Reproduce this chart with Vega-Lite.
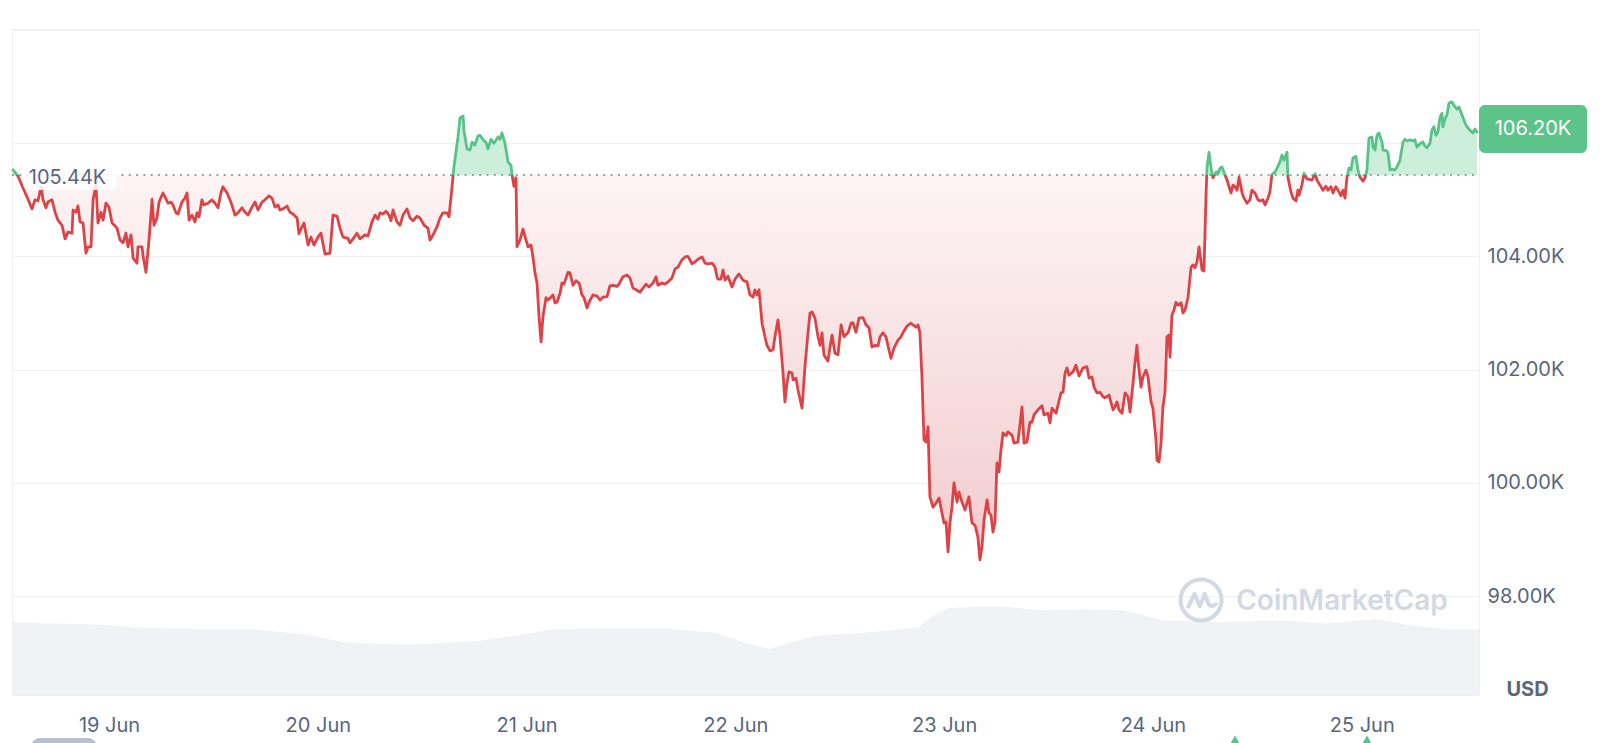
{
"$schema":"https://vega.github.io/schema/vega-lite/v6.json",
"width":1467,"height":666,
"autosize":{"type":"none"},
"padding":{"left":12,"top":29,"right":121,"bottom":48},
"background":"#ffffff",
"config":{"font":"Inter","view":{"stroke":"#eef0f3","strokeWidth":1},"axis":{"labelFont":"Inter","titleFont":"Inter"}},
"datasets":{
"volume":[
{"t":"2025-06-18T12:51:00Z","v":32.9},{"t":"2025-06-18T17:20:00Z","v":32.2},{"t":"2025-06-18T23:12:00Z","v":31.8},{"t":"2025-06-19T02:46:00Z","v":30.4},{"t":"2025-06-19T10:55:00Z","v":29.5},{"t":"2025-06-19T16:47:00Z","v":29.5},{"t":"2025-06-19T22:39:00Z","v":27.2},{"t":"2025-06-20T03:21:00Z","v":23.5},{"t":"2025-06-20T10:22:00Z","v":22.6},{"t":"2025-06-20T15:05:00Z","v":23.5},{"t":"2025-06-20T18:39:00Z","v":24.4},{"t":"2025-06-20T22:06:00Z","v":26.3},{"t":"2025-06-21T02:48:00Z","v":29.5},{"t":"2025-06-21T09:49:00Z","v":29.9},{"t":"2025-06-21T15:41:00Z","v":29.9},{"t":"2025-06-21T21:33:00Z","v":28.1},{"t":"2025-06-22T01:06:00Z","v":23.5},{"t":"2025-06-22T03:59:00Z","v":20.7},{"t":"2025-06-22T06:58:00Z","v":24.4},{"t":"2025-06-22T09:16:00Z","v":26.7},{"t":"2025-06-22T15:08:00Z","v":28.1},{"t":"2025-06-22T21:00:00Z","v":30.4},{"t":"2025-06-22T22:50:00Z","v":35.9},{"t":"2025-06-23T00:33:00Z","v":39.1},{"t":"2025-06-23T04:07:00Z","v":40.0},{"t":"2025-06-23T07:34:00Z","v":39.6},{"t":"2025-06-23T11:08:00Z","v":38.2},{"t":"2025-06-23T15:51:00Z","v":38.6},{"t":"2025-06-23T20:27:00Z","v":38.2},{"t":"2025-06-23T22:51:00Z","v":35.9},{"t":"2025-06-24T01:09:00Z","v":33.6},{"t":"2025-06-24T08:10:00Z","v":32.9},{"t":"2025-06-24T15:18:00Z","v":33.6},{"t":"2025-06-24T20:01:00Z","v":32.2},{"t":"2025-06-25T01:52:00Z","v":34.2},{"t":"2025-06-25T05:19:00Z","v":31.5},{"t":"2025-06-25T10:02:00Z","v":29.5},{"t":"2025-06-25T13:29:00Z","v":29.5}],
"price":[
{"t":"2025-06-18T12:58:00Z","p":105530},{"t":"2025-06-18T13:32:00Z","p":105420},{"t":"2025-06-18T14:14:00Z","p":105170},{"t":"2025-06-18T14:41:00Z","p":105010},{"t":"2025-06-18T15:09:00Z","p":104840},{"t":"2025-06-18T15:30:00Z","p":105000},{"t":"2025-06-18T15:50:00Z","p":104980},{"t":"2025-06-18T16:11:00Z","p":105230},{"t":"2025-06-18T16:25:00Z","p":105000},{"t":"2025-06-18T16:45:00Z","p":104860},{"t":"2025-06-18T16:59:00Z","p":104960},{"t":"2025-06-18T17:27:00Z","p":105000},{"t":"2025-06-18T17:48:00Z","p":104780},{"t":"2025-06-18T18:08:00Z","p":104640},{"t":"2025-06-18T18:36:00Z","p":104550},{"t":"2025-06-18T18:57:00Z","p":104310},{"t":"2025-06-18T19:17:00Z","p":104430},{"t":"2025-06-18T19:45:00Z","p":104410},{"t":"2025-06-18T19:52:00Z","p":104820},{"t":"2025-06-18T20:12:00Z","p":104780},{"t":"2025-06-18T20:26:00Z","p":104890},{"t":"2025-06-18T20:40:00Z","p":104610},{"t":"2025-06-18T21:01:00Z","p":104590},{"t":"2025-06-18T21:21:00Z","p":104060},{"t":"2025-06-18T21:35:00Z","p":104170},{"t":"2025-06-18T21:56:00Z","p":104170},{"t":"2025-06-18T22:10:00Z","p":105000},{"t":"2025-06-18T22:30:00Z","p":105260},{"t":"2025-06-18T22:44:00Z","p":104590},{"t":"2025-06-18T23:05:00Z","p":104780},{"t":"2025-06-18T23:19:00Z","p":104640},{"t":"2025-06-18T23:39:00Z","p":104940},
{"t":"2025-06-19T00:00:00Z","p":104870},{"t":"2025-06-19T00:21:00Z","p":104590},{"t":"2025-06-19T00:34:00Z","p":104560},{"t":"2025-06-19T00:55:00Z","p":104500},{"t":"2025-06-19T01:16:00Z","p":104290},{"t":"2025-06-19T01:37:00Z","p":104240},{"t":"2025-06-19T01:57:00Z","p":104410},{"t":"2025-06-19T02:11:00Z","p":104170},{"t":"2025-06-19T02:32:00Z","p":104380},{"t":"2025-06-19T02:46:00Z","p":103970},{"t":"2025-06-19T03:13:00Z","p":103880},{"t":"2025-06-19T03:20:00Z","p":104170},{"t":"2025-06-19T03:48:00Z","p":104170},{"t":"2025-06-19T03:54:00Z","p":104020},{"t":"2025-06-19T04:15:00Z","p":103720},{"t":"2025-06-19T04:36:00Z","p":104290},{"t":"2025-06-19T04:57:00Z","p":105010},{"t":"2025-06-19T05:10:00Z","p":104550},{"t":"2025-06-19T05:31:00Z","p":104680},{"t":"2025-06-19T05:45:00Z","p":104960},{"t":"2025-06-19T06:12:00Z","p":105120},{"t":"2025-06-19T06:26:00Z","p":105050},{"t":"2025-06-19T06:47:00Z","p":104940},{"t":"2025-06-19T07:08:00Z","p":104960},{"t":"2025-06-19T07:21:00Z","p":104910},{"t":"2025-06-19T07:42:00Z","p":104770},{"t":"2025-06-19T07:56:00Z","p":104750},{"t":"2025-06-19T08:23:00Z","p":104960},{"t":"2025-06-19T08:44:00Z","p":105030},{"t":"2025-06-19T08:58:00Z","p":105120},{"t":"2025-06-19T09:12:00Z","p":104640},{"t":"2025-06-19T09:32:00Z","p":104730},{"t":"2025-06-19T09:53:00Z","p":104610},{"t":"2025-06-19T10:07:00Z","p":104770},{"t":"2025-06-19T10:21:00Z","p":104700},{"t":"2025-06-19T10:41:00Z","p":105000},{"t":"2025-06-19T10:55:00Z","p":104910},{"t":"2025-06-19T11:23:00Z","p":104940},{"t":"2025-06-19T11:50:00Z","p":105000},{"t":"2025-06-19T12:11:00Z","p":104940},{"t":"2025-06-19T12:32:00Z","p":104860},{"t":"2025-06-19T12:52:00Z","p":105120},{"t":"2025-06-19T13:06:00Z","p":105230},{"t":"2025-06-19T13:34:00Z","p":105120},{"t":"2025-06-19T14:01:00Z","p":104960},{"t":"2025-06-19T14:29:00Z","p":104730},{"t":"2025-06-19T14:50:00Z","p":104770},{"t":"2025-06-19T15:17:00Z","p":104860},{"t":"2025-06-19T15:38:00Z","p":104780},{"t":"2025-06-19T15:59:00Z","p":104730},{"t":"2025-06-19T16:26:00Z","p":104870},{"t":"2025-06-19T16:47:00Z","p":104960},{"t":"2025-06-19T17:08:00Z","p":104820},{"t":"2025-06-19T17:35:00Z","p":104960},{"t":"2025-06-19T17:56:00Z","p":105000},{"t":"2025-06-19T18:24:00Z","p":105070},{"t":"2025-06-19T18:44:00Z","p":105030},{"t":"2025-06-19T19:05:00Z","p":104870},{"t":"2025-06-19T19:26:00Z","p":104910},{"t":"2025-06-19T19:39:00Z","p":104820},{"t":"2025-06-19T20:00:00Z","p":104840},{"t":"2025-06-19T20:28:00Z","p":104890},{"t":"2025-06-19T20:48:00Z","p":104780},{"t":"2025-06-19T21:09:00Z","p":104750},{"t":"2025-06-19T21:37:00Z","p":104680},{"t":"2025-06-19T21:50:00Z","p":104400},{"t":"2025-06-19T22:11:00Z","p":104520},{"t":"2025-06-19T22:25:00Z","p":104590},{"t":"2025-06-19T22:53:00Z","p":104200},{"t":"2025-06-19T23:13:00Z","p":104340},{"t":"2025-06-19T23:34:00Z","p":104200},
{"t":"2025-06-20T00:01:00Z","p":104340},{"t":"2025-06-20T00:22:00Z","p":104410},{"t":"2025-06-20T00:50:00Z","p":104040},{"t":"2025-06-20T01:24:00Z","p":104060},{"t":"2025-06-20T01:45:00Z","p":104730},{"t":"2025-06-20T02:13:00Z","p":104710},{"t":"2025-06-20T02:33:00Z","p":104500},{"t":"2025-06-20T02:54:00Z","p":104340},{"t":"2025-06-20T03:28:00Z","p":104320},{"t":"2025-06-20T03:42:00Z","p":104240},{"t":"2025-06-20T04:03:00Z","p":104310},{"t":"2025-06-20T04:30:00Z","p":104410},{"t":"2025-06-20T04:51:00Z","p":104310},{"t":"2025-06-20T05:26:00Z","p":104380},{"t":"2025-06-20T05:46:00Z","p":104360},{"t":"2025-06-20T06:14:00Z","p":104610},{"t":"2025-06-20T06:35:00Z","p":104730},{"t":"2025-06-20T06:55:00Z","p":104660},{"t":"2025-06-20T07:09:00Z","p":104770},{"t":"2025-06-20T07:30:00Z","p":104750},{"t":"2025-06-20T07:50:00Z","p":104800},{"t":"2025-06-20T08:11:00Z","p":104730},{"t":"2025-06-20T08:25:00Z","p":104630},{"t":"2025-06-20T08:39:00Z","p":104820},{"t":"2025-06-20T09:06:00Z","p":104610},{"t":"2025-06-20T09:27:00Z","p":104550},{"t":"2025-06-20T09:48:00Z","p":104730},{"t":"2025-06-20T10:15:00Z","p":104840},{"t":"2025-06-20T10:36:00Z","p":104680},{"t":"2025-06-20T10:57:00Z","p":104630},{"t":"2025-06-20T11:24:00Z","p":104710},{"t":"2025-06-20T11:45:00Z","p":104680},{"t":"2025-06-20T12:13:00Z","p":104550},{"t":"2025-06-20T12:40:00Z","p":104500},{"t":"2025-06-20T12:54:00Z","p":104290},{"t":"2025-06-20T13:15:00Z","p":104380},{"t":"2025-06-20T13:42:00Z","p":104520},{"t":"2025-06-20T14:03:00Z","p":104680},{"t":"2025-06-20T14:24:00Z","p":104770},{"t":"2025-06-20T14:51:00Z","p":104770},{"t":"2025-06-20T15:05:00Z","p":104700},{"t":"2025-06-20T15:26:00Z","p":105230},{"t":"2025-06-20T15:39:00Z","p":105580},{"t":"2025-06-20T16:07:00Z","p":106110},{"t":"2025-06-20T16:21:00Z","p":106450},{"t":"2025-06-20T16:42:00Z","p":106480},{"t":"2025-06-20T16:48:00Z","p":106230},{"t":"2025-06-20T17:09:00Z","p":105900},{"t":"2025-06-20T17:30:00Z","p":105880},{"t":"2025-06-20T17:44:00Z","p":106020},{"t":"2025-06-20T18:04:00Z","p":105970},{"t":"2025-06-20T18:25:00Z","p":106130},{"t":"2025-06-20T18:39:00Z","p":106140},{"t":"2025-06-20T19:00:00Z","p":106060},{"t":"2025-06-20T19:20:00Z","p":106020},{"t":"2025-06-20T19:34:00Z","p":105900},{"t":"2025-06-20T19:55:00Z","p":106070},{"t":"2025-06-20T20:15:00Z","p":106000},{"t":"2025-06-20T20:43:00Z","p":106110},{"t":"2025-06-20T20:57:00Z","p":106070},{"t":"2025-06-20T21:10:00Z","p":106180},{"t":"2025-06-20T21:31:00Z","p":106000},{"t":"2025-06-20T21:52:00Z","p":105670},{"t":"2025-06-20T22:13:00Z","p":105610},{"t":"2025-06-20T22:19:00Z","p":105450},{"t":"2025-06-20T22:33:00Z","p":105240},{"t":"2025-06-20T22:47:00Z","p":105390},{"t":"2025-06-20T22:54:00Z","p":104170},{"t":"2025-06-20T23:15:00Z","p":104290},{"t":"2025-06-20T23:35:00Z","p":104480},{"t":"2025-06-20T23:56:00Z","p":104290},
{"t":"2025-06-21T00:10:00Z","p":104170},{"t":"2025-06-21T00:31:00Z","p":104200},{"t":"2025-06-21T00:44:00Z","p":103990},{"t":"2025-06-21T00:58:00Z","p":103710},{"t":"2025-06-21T01:12:00Z","p":103530},{"t":"2025-06-21T01:26:00Z","p":102930},{"t":"2025-06-21T01:40:00Z","p":102490},{"t":"2025-06-21T01:53:00Z","p":102930},{"t":"2025-06-21T02:14:00Z","p":103270},{"t":"2025-06-21T02:28:00Z","p":103230},{"t":"2025-06-21T02:48:00Z","p":103280},{"t":"2025-06-21T03:02:00Z","p":103320},{"t":"2025-06-21T03:16:00Z","p":103180},{"t":"2025-06-21T03:30:00Z","p":103190},{"t":"2025-06-21T03:51:00Z","p":103350},{"t":"2025-06-21T04:04:00Z","p":103530},{"t":"2025-06-21T04:18:00Z","p":103510},{"t":"2025-06-21T04:46:00Z","p":103720},{"t":"2025-06-21T04:59:00Z","p":103710},{"t":"2025-06-21T05:20:00Z","p":103490},{"t":"2025-06-21T05:41:00Z","p":103570},{"t":"2025-06-21T06:02:00Z","p":103530},{"t":"2025-06-21T06:22:00Z","p":103320},{"t":"2025-06-21T06:36:00Z","p":103270},{"t":"2025-06-21T06:57:00Z","p":103090},{"t":"2025-06-21T07:11:00Z","p":103190},{"t":"2025-06-21T07:38:00Z","p":103320},{"t":"2025-06-21T08:06:00Z","p":103300},{"t":"2025-06-21T08:26:00Z","p":103230},{"t":"2025-06-21T08:47:00Z","p":103280},{"t":"2025-06-21T09:15:00Z","p":103290},{"t":"2025-06-21T09:35:00Z","p":103480},{"t":"2025-06-21T09:56:00Z","p":103490},{"t":"2025-06-21T10:24:00Z","p":103470},{"t":"2025-06-21T10:37:00Z","p":103510},{"t":"2025-06-21T11:05:00Z","p":103640},{"t":"2025-06-21T11:33:00Z","p":103670},{"t":"2025-06-21T11:53:00Z","p":103620},{"t":"2025-06-21T12:14:00Z","p":103440},{"t":"2025-06-21T12:35:00Z","p":103410},{"t":"2025-06-21T13:02:00Z","p":103370},{"t":"2025-06-21T13:23:00Z","p":103440},{"t":"2025-06-21T13:44:00Z","p":103510},{"t":"2025-06-21T14:04:00Z","p":103460},{"t":"2025-06-21T14:32:00Z","p":103530},{"t":"2025-06-21T14:53:00Z","p":103640},{"t":"2025-06-21T15:06:00Z","p":103490},{"t":"2025-06-21T15:34:00Z","p":103530},{"t":"2025-06-21T15:54:00Z","p":103510},{"t":"2025-06-21T16:15:00Z","p":103550},{"t":"2025-06-21T16:43:00Z","p":103620},{"t":"2025-06-21T17:04:00Z","p":103780},{"t":"2025-06-21T17:24:00Z","p":103810},{"t":"2025-06-21T17:52:00Z","p":103940},{"t":"2025-06-21T18:13:00Z","p":103990},{"t":"2025-06-21T18:33:00Z","p":104000},{"t":"2025-06-21T19:01:00Z","p":103870},{"t":"2025-06-21T19:22:00Z","p":103900},{"t":"2025-06-21T19:42:00Z","p":103950},{"t":"2025-06-21T20:10:00Z","p":103990},{"t":"2025-06-21T20:31:00Z","p":103880},{"t":"2025-06-21T20:51:00Z","p":103870},{"t":"2025-06-21T21:19:00Z","p":103880},{"t":"2025-06-21T21:40:00Z","p":103810},{"t":"2025-06-21T21:53:00Z","p":103640},{"t":"2025-06-21T22:00:00Z","p":103600},{"t":"2025-06-21T22:21:00Z","p":103600},{"t":"2025-06-21T22:35:00Z","p":103760},{"t":"2025-06-21T22:49:00Z","p":103580},{"t":"2025-06-21T23:09:00Z","p":103650},{"t":"2025-06-21T23:23:00Z","p":103550},{"t":"2025-06-21T23:37:00Z","p":103460},{"t":"2025-06-21T23:58:00Z","p":103600},
{"t":"2025-06-22T00:25:00Z","p":103690},{"t":"2025-06-22T00:53:00Z","p":103580},{"t":"2025-06-22T01:20:00Z","p":103550},{"t":"2025-06-22T01:41:00Z","p":103320},{"t":"2025-06-22T02:02:00Z","p":103280},{"t":"2025-06-22T02:15:00Z","p":103410},{"t":"2025-06-22T02:29:00Z","p":103320},{"t":"2025-06-22T02:43:00Z","p":103410},{"t":"2025-06-22T03:04:00Z","p":102820},{"t":"2025-06-22T03:24:00Z","p":102580},{"t":"2025-06-22T03:38:00Z","p":102430},{"t":"2025-06-22T03:59:00Z","p":102330},{"t":"2025-06-22T04:20:00Z","p":102350},{"t":"2025-06-22T04:33:00Z","p":102580},{"t":"2025-06-22T04:54:00Z","p":102880},{"t":"2025-06-22T05:08:00Z","p":102580},{"t":"2025-06-22T05:29:00Z","p":101940},{"t":"2025-06-22T05:42:00Z","p":101430},{"t":"2025-06-22T05:56:00Z","p":101760},{"t":"2025-06-22T06:10:00Z","p":101960},{"t":"2025-06-22T06:31:00Z","p":101940},{"t":"2025-06-22T06:38:00Z","p":101820},{"t":"2025-06-22T06:58:00Z","p":101850},{"t":"2025-06-22T07:12:00Z","p":101640},{"t":"2025-06-22T07:40:00Z","p":101320},{"t":"2025-06-22T08:00:00Z","p":102050},{"t":"2025-06-22T08:21:00Z","p":102650},{"t":"2025-06-22T08:35:00Z","p":103000},{"t":"2025-06-22T08:49:00Z","p":103020},{"t":"2025-06-22T09:09:00Z","p":102910},{"t":"2025-06-22T09:30:00Z","p":102580},{"t":"2025-06-22T09:44:00Z","p":102430},{"t":"2025-06-22T09:58:00Z","p":102650},{"t":"2025-06-22T10:11:00Z","p":102260},{"t":"2025-06-22T10:39:00Z","p":102150},{"t":"2025-06-22T10:53:00Z","p":102400},{"t":"2025-06-22T11:07:00Z","p":102610},{"t":"2025-06-22T11:27:00Z","p":102290},{"t":"2025-06-22T11:48:00Z","p":102260},{"t":"2025-06-22T12:09:00Z","p":102790},{"t":"2025-06-22T12:29:00Z","p":102580},{"t":"2025-06-22T12:57:00Z","p":102650},{"t":"2025-06-22T13:18:00Z","p":102820},{"t":"2025-06-22T13:31:00Z","p":102830},{"t":"2025-06-22T13:52:00Z","p":102660},{"t":"2025-06-22T14:13:00Z","p":102910},{"t":"2025-06-22T14:40:00Z","p":102920},{"t":"2025-06-22T15:01:00Z","p":102790},{"t":"2025-06-22T15:22:00Z","p":102740},{"t":"2025-06-22T15:42:00Z","p":102400},{"t":"2025-06-22T16:03:00Z","p":102430},{"t":"2025-06-22T16:24:00Z","p":102420},{"t":"2025-06-22T16:38:00Z","p":102580},{"t":"2025-06-22T16:58:00Z","p":102650},{"t":"2025-06-22T17:19:00Z","p":102580},{"t":"2025-06-22T17:33:00Z","p":102420},{"t":"2025-06-22T17:53:00Z","p":102200},{"t":"2025-06-22T18:14:00Z","p":102380},{"t":"2025-06-22T18:42:00Z","p":102520},{"t":"2025-06-22T19:02:00Z","p":102580},{"t":"2025-06-22T19:16:00Z","p":102650},{"t":"2025-06-22T19:44:00Z","p":102770},{"t":"2025-06-22T20:11:00Z","p":102820},{"t":"2025-06-22T20:25:00Z","p":102790},{"t":"2025-06-22T20:46:00Z","p":102750},{"t":"2025-06-22T21:00:00Z","p":102790},{"t":"2025-06-22T21:13:00Z","p":102650},{"t":"2025-06-22T21:27:00Z","p":101870},{"t":"2025-06-22T21:41:00Z","p":100760},{"t":"2025-06-22T21:55:00Z","p":100720},{"t":"2025-06-22T22:09:00Z","p":100990},{"t":"2025-06-22T22:22:00Z","p":99750},{"t":"2025-06-22T22:43:00Z","p":99570},{"t":"2025-06-22T23:04:00Z","p":99640},{"t":"2025-06-22T23:25:00Z","p":99730},{"t":"2025-06-22T23:45:00Z","p":99470},{"t":"2025-06-22T23:59:00Z","p":99290},
{"t":"2025-06-23T00:13:00Z","p":99310},{"t":"2025-06-23T00:27:00Z","p":98780},{"t":"2025-06-23T00:40:00Z","p":99290},{"t":"2025-06-23T00:54:00Z","p":99570},{"t":"2025-06-23T01:08:00Z","p":100000},{"t":"2025-06-23T01:29:00Z","p":99660},{"t":"2025-06-23T01:42:00Z","p":99840},{"t":"2025-06-23T02:03:00Z","p":99660},{"t":"2025-06-23T02:24:00Z","p":99520},{"t":"2025-06-23T02:51:00Z","p":99750},{"t":"2025-06-23T03:12:00Z","p":99290},{"t":"2025-06-23T03:33:00Z","p":99250},{"t":"2025-06-23T03:53:00Z","p":99040},{"t":"2025-06-23T04:07:00Z","p":98640},{"t":"2025-06-23T04:21:00Z","p":98870},{"t":"2025-06-23T04:35:00Z","p":99340},{"t":"2025-06-23T04:56:00Z","p":99700},{"t":"2025-06-23T05:09:00Z","p":99470},{"t":"2025-06-23T05:23:00Z","p":99430},{"t":"2025-06-23T05:37:00Z","p":99130},{"t":"2025-06-23T05:51:00Z","p":99310},{"t":"2025-06-23T06:04:00Z","p":100350},{"t":"2025-06-23T06:18:00Z","p":100190},{"t":"2025-06-23T06:32:00Z","p":100580},{"t":"2025-06-23T06:46:00Z","p":100880},{"t":"2025-06-23T07:07:00Z","p":100830},{"t":"2025-06-23T07:20:00Z","p":100900},{"t":"2025-06-23T07:48:00Z","p":100840},{"t":"2025-06-23T08:02:00Z","p":100700},{"t":"2025-06-23T08:29:00Z","p":100720},{"t":"2025-06-23T08:57:00Z","p":101340},{"t":"2025-06-23T09:11:00Z","p":100700},{"t":"2025-06-23T09:31:00Z","p":100720},{"t":"2025-06-23T09:52:00Z","p":101070},{"t":"2025-06-23T10:06:00Z","p":101070},{"t":"2025-06-23T10:20:00Z","p":101200},{"t":"2025-06-23T10:47:00Z","p":101290},{"t":"2025-06-23T11:15:00Z","p":101360},{"t":"2025-06-23T11:29:00Z","p":101200},{"t":"2025-06-23T11:56:00Z","p":101230},{"t":"2025-06-23T12:10:00Z","p":101060},{"t":"2025-06-23T12:24:00Z","p":101320},{"t":"2025-06-23T12:52:00Z","p":101230},{"t":"2025-06-23T13:05:00Z","p":101370},{"t":"2025-06-23T13:26:00Z","p":101590},{"t":"2025-06-23T13:40:00Z","p":101600},{"t":"2025-06-23T13:54:00Z","p":101940},{"t":"2025-06-23T14:07:00Z","p":102030},{"t":"2025-06-23T14:21:00Z","p":101900},{"t":"2025-06-23T14:49:00Z","p":101960},{"t":"2025-06-23T15:09:00Z","p":102080},{"t":"2025-06-23T15:30:00Z","p":101890},{"t":"2025-06-23T15:58:00Z","p":102030},{"t":"2025-06-23T16:25:00Z","p":102050},{"t":"2025-06-23T16:39:00Z","p":101850},{"t":"2025-06-23T17:00:00Z","p":101870},{"t":"2025-06-23T17:14:00Z","p":101690},{"t":"2025-06-23T17:34:00Z","p":101590},{"t":"2025-06-23T17:55:00Z","p":101600},{"t":"2025-06-23T18:16:00Z","p":101520},{"t":"2025-06-23T18:29:00Z","p":101500},{"t":"2025-06-23T18:57:00Z","p":101550},{"t":"2025-06-23T19:25:00Z","p":101290},{"t":"2025-06-23T19:38:00Z","p":101340},{"t":"2025-06-23T19:52:00Z","p":101430},{"t":"2025-06-23T20:06:00Z","p":101290},{"t":"2025-06-23T20:27:00Z","p":101230},{"t":"2025-06-23T20:48:00Z","p":101590},{"t":"2025-06-23T21:08:00Z","p":101520},{"t":"2025-06-23T21:22:00Z","p":101250},{"t":"2025-06-23T21:43:00Z","p":101760},{"t":"2025-06-23T21:56:00Z","p":102120},{"t":"2025-06-23T22:10:00Z","p":102430},{"t":"2025-06-23T22:17:00Z","p":102170},{"t":"2025-06-23T22:38:00Z","p":101690},{"t":"2025-06-23T22:51:00Z","p":101870},{"t":"2025-06-23T23:12:00Z","p":101990},{"t":"2025-06-23T23:26:00Z","p":101870},{"t":"2025-06-23T23:47:00Z","p":101430},
{"t":"2025-06-24T00:00:00Z","p":101320},{"t":"2025-06-24T00:21:00Z","p":100760},{"t":"2025-06-24T00:28:00Z","p":100400},{"t":"2025-06-24T00:42:00Z","p":100370},{"t":"2025-06-24T00:56:00Z","p":100700},{"t":"2025-06-24T01:09:00Z","p":101340},{"t":"2025-06-24T01:23:00Z","p":101590},{"t":"2025-06-24T01:37:00Z","p":102580},{"t":"2025-06-24T01:51:00Z","p":102610},{"t":"2025-06-24T01:58:00Z","p":102220},{"t":"2025-06-24T02:11:00Z","p":102960},{"t":"2025-06-24T02:25:00Z","p":103050},{"t":"2025-06-24T02:39:00Z","p":103190},{"t":"2025-06-24T02:53:00Z","p":103140},{"t":"2025-06-24T03:14:00Z","p":103180},{"t":"2025-06-24T03:27:00Z","p":103000},{"t":"2025-06-24T03:41:00Z","p":103050},{"t":"2025-06-24T04:02:00Z","p":103270},{"t":"2025-06-24T04:23:00Z","p":103810},{"t":"2025-06-24T04:36:00Z","p":103850},{"t":"2025-06-24T04:50:00Z","p":103800},{"t":"2025-06-24T05:04:00Z","p":103900},{"t":"2025-06-24T05:18:00Z","p":104170},{"t":"2025-06-24T05:39:00Z","p":103760},{"t":"2025-06-24T05:52:00Z","p":103740},{"t":"2025-06-24T06:06:00Z","p":105050},{"t":"2025-06-24T06:13:00Z","p":105580},{"t":"2025-06-24T06:27:00Z","p":105840},{"t":"2025-06-24T06:41:00Z","p":105560},{"t":"2025-06-24T06:54:00Z","p":105390},{"t":"2025-06-24T07:15:00Z","p":105490},{"t":"2025-06-24T07:29:00Z","p":105470},{"t":"2025-06-24T07:43:00Z","p":105560},{"t":"2025-06-24T07:56:00Z","p":105580},{"t":"2025-06-24T08:10:00Z","p":105490},{"t":"2025-06-24T08:31:00Z","p":105350},{"t":"2025-06-24T08:45:00Z","p":105230},{"t":"2025-06-24T08:59:00Z","p":105120},{"t":"2025-06-24T09:12:00Z","p":105260},{"t":"2025-06-24T09:26:00Z","p":105230},{"t":"2025-06-24T09:40:00Z","p":105170},{"t":"2025-06-24T09:54:00Z","p":105400},{"t":"2025-06-24T10:15:00Z","p":105120},{"t":"2025-06-24T10:28:00Z","p":105030},{"t":"2025-06-24T10:49:00Z","p":104940},{"t":"2025-06-24T11:09:00Z","p":105000},{"t":"2025-06-24T11:23:00Z","p":105170},{"t":"2025-06-24T11:44:00Z","p":105120},{"t":"2025-06-24T12:05:00Z","p":105000},{"t":"2025-06-24T12:18:00Z","p":104980},{"t":"2025-06-24T12:39:00Z","p":105000},{"t":"2025-06-24T12:53:00Z","p":104910},{"t":"2025-06-24T13:14:00Z","p":105030},{"t":"2025-06-24T13:27:00Z","p":105140},{"t":"2025-06-24T13:41:00Z","p":105450},{"t":"2025-06-24T14:02:00Z","p":105490},{"t":"2025-06-24T14:16:00Z","p":105560},{"t":"2025-06-24T14:36:00Z","p":105670},{"t":"2025-06-24T14:50:00Z","p":105790},{"t":"2025-06-24T15:04:00Z","p":105700},{"t":"2025-06-24T15:25:00Z","p":105840},{"t":"2025-06-24T15:31:00Z","p":105400},{"t":"2025-06-24T15:52:00Z","p":105140},{"t":"2025-06-24T16:06:00Z","p":105030},{"t":"2025-06-24T16:27:00Z","p":104980},{"t":"2025-06-24T16:40:00Z","p":105170},{"t":"2025-06-24T16:47:00Z","p":105080},{"t":"2025-06-24T17:08:00Z","p":105260},{"t":"2025-06-24T17:22:00Z","p":105470},{"t":"2025-06-24T17:42:00Z","p":105370},{"t":"2025-06-24T17:56:00Z","p":105360},{"t":"2025-06-24T18:17:00Z","p":105350},{"t":"2025-06-24T18:38:00Z","p":105460},{"t":"2025-06-24T18:51:00Z","p":105350},{"t":"2025-06-24T19:12:00Z","p":105260},{"t":"2025-06-24T19:33:00Z","p":105170},{"t":"2025-06-24T19:53:00Z","p":105240},{"t":"2025-06-24T20:07:00Z","p":105170},{"t":"2025-06-24T20:28:00Z","p":105230},{"t":"2025-06-24T20:42:00Z","p":105120},{"t":"2025-06-24T21:02:00Z","p":105230},{"t":"2025-06-24T21:16:00Z","p":105170},{"t":"2025-06-24T21:37:00Z","p":105070},{"t":"2025-06-24T21:51:00Z","p":105170},{"t":"2025-06-24T22:05:00Z","p":105030},{"t":"2025-06-24T22:18:00Z","p":105390},{"t":"2025-06-24T22:32:00Z","p":105560},{"t":"2025-06-24T22:46:00Z","p":105530},{"t":"2025-06-24T23:00:00Z","p":105740},{"t":"2025-06-24T23:20:00Z","p":105770},{"t":"2025-06-24T23:34:00Z","p":105530},{"t":"2025-06-24T23:48:00Z","p":105400},
{"t":"2025-06-25T00:09:00Z","p":105330},{"t":"2025-06-25T00:23:00Z","p":105390},{"t":"2025-06-25T00:36:00Z","p":105530},{"t":"2025-06-25T00:50:00Z","p":106090},{"t":"2025-06-25T01:11:00Z","p":106110},{"t":"2025-06-25T01:18:00Z","p":105930},{"t":"2025-06-25T01:32:00Z","p":105880},{"t":"2025-06-25T01:46:00Z","p":106150},{"t":"2025-06-25T01:59:00Z","p":106180},{"t":"2025-06-25T02:20:00Z","p":106020},{"t":"2025-06-25T02:27:00Z","p":105880},{"t":"2025-06-25T02:48:00Z","p":105870},{"t":"2025-06-25T03:01:00Z","p":105840},{"t":"2025-06-25T03:15:00Z","p":105530},{"t":"2025-06-25T03:29:00Z","p":105540},{"t":"2025-06-25T03:50:00Z","p":105530},{"t":"2025-06-25T04:03:00Z","p":105580},{"t":"2025-06-25T04:24:00Z","p":105700},{"t":"2025-06-25T04:45:00Z","p":106020},{"t":"2025-06-25T04:58:00Z","p":106070},{"t":"2025-06-25T05:12:00Z","p":106040},{"t":"2025-06-25T05:33:00Z","p":106060},{"t":"2025-06-25T05:54:00Z","p":106040},{"t":"2025-06-25T06:07:00Z","p":106060},{"t":"2025-06-25T06:21:00Z","p":105930},{"t":"2025-06-25T06:42:00Z","p":105990},{"t":"2025-06-25T07:03:00Z","p":106020},{"t":"2025-06-25T07:16:00Z","p":105950},{"t":"2025-06-25T07:30:00Z","p":105920},{"t":"2025-06-25T07:51:00Z","p":106000},{"t":"2025-06-25T08:04:00Z","p":106230},{"t":"2025-06-25T08:18:00Z","p":106290},{"t":"2025-06-25T08:32:00Z","p":106140},{"t":"2025-06-25T08:46:00Z","p":106200},{"t":"2025-06-25T09:00:00Z","p":106460},{"t":"2025-06-25T09:14:00Z","p":106530},{"t":"2025-06-25T09:20:00Z","p":106290},{"t":"2025-06-25T09:34:00Z","p":106430},{"t":"2025-06-25T09:48:00Z","p":106500},{"t":"2025-06-25T10:02:00Z","p":106710},{"t":"2025-06-25T10:23:00Z","p":106730},{"t":"2025-06-25T10:36:00Z","p":106670},{"t":"2025-06-25T10:57:00Z","p":106600},{"t":"2025-06-25T11:11:00Z","p":106640},{"t":"2025-06-25T11:38:00Z","p":106460},{"t":"2025-06-25T11:52:00Z","p":106360},{"t":"2025-06-25T12:06:00Z","p":106290},{"t":"2025-06-25T12:27:00Z","p":106230},{"t":"2025-06-25T12:47:00Z","p":106180},{"t":"2025-06-25T13:01:00Z","p":106250},{"t":"2025-06-25T13:15:00Z","p":106200}],
"baseline":[{"t":"2025-06-18T12:51:00Z","p":105440},{"t":"2025-06-25T13:29:00Z","p":105440}],
"openBox":[{"t":"2025-06-18T14:07:00Z","t2":"2025-06-19T00:55:00Z","p":105173,"p2":105580}],
"openText":[{"t":"2025-06-18T19:14:00Z","p":105385,"label":"105.44K"}],
"lastBox":[{"t":"2025-06-25T13:29:00Z","t2":"2025-06-26T01:54:00Z","p":105827,"p2":106675}],
"lastText":[{"t":"2025-06-25T19:41:00Z","p":106251,"label":"106.20K"}],
"mark":[{"t":"2025-06-24T21:44:00Z","p":97753,"label":"CoinMarketCap"}],
"logo":[{"t":"2025-06-24T05:32:00Z","p":97929}],
"events":[{"t":"2025-06-24T09:26:00Z","p":95367},{"t":"2025-06-25T00:36:00Z","p":95367}],
"handle":[{"t":"2025-06-18T15:02:00Z","t2":"2025-06-18T22:37:00Z","p":95103,"p2":95491}]
},
"encoding":{"x":{"field":"t","type":"temporal",
 "scale":{"type":"utc","domain":[{"year":2025,"month":6,"date":18,"hours":12,"minutes":51,"utc":true},{"year":2025,"month":6,"date":25,"hours":13,"minutes":29,"utc":true}]},
 "axis":{"title":null,"format":"%-d %b","values":[{"year":2025,"month":6,"date":19,"utc":true},{"year":2025,"month":6,"date":20,"utc":true},{"year":2025,"month":6,"date":21,"utc":true},{"year":2025,"month":6,"date":22,"utc":true},{"year":2025,"month":6,"date":23,"utc":true},{"year":2025,"month":6,"date":24,"utc":true},{"year":2025,"month":6,"date":25,"utc":true}],
  "domain":false,"ticks":false,"grid":false,"labelPadding":20,"labelFontSize":20,"labelColor":"#58667e","labelFlush":false}}},
"layer":[
 {"data":{"name":"volume"},"mark":{"type":"area","fill":"#f0f2f5","interpolate":"linear"},
  "encoding":{"y":{"field":"v","type":"quantitative","scale":{"domain":[0,300],"nice":false},"axis":null}}},
 {"encoding":{"y":{"field":"p","type":"quantitative","scale":{"domain":[96251,108018],"nice":false,"zero":false},
   "axis":{"orient":"right","values":[98000,100000,102000,104000,106000,108000],"labelExpr":"datum.value >= 106000 ? '' : format(datum.value/1000, '.2f') + 'K'","grid":true,"gridColor":"#eef0f3","gridWidth":1,"domain":false,"ticks":false,"labelPadding":8,"labelFontSize":20,"labelColor":"#58667e","title":"USD","titleAngle":0,"titleX":48,"titleY":660,"titleAlign":"center","titleBaseline":"middle","titleFontSize":20,"titleFontWeight":700,"titleColor":"#58667e"}}},
  "layer":[
   {"data":{"name":"mark"},"mark":{"type":"text","align":"center","baseline":"alphabetic","fontSize":28,"fontWeight":600,"color":"#d3d9e4"},"encoding":{"text":{"field":"label"}}},
   {"data":{"name":"logo"},"mark":{"type":"point","shape":"circle","size":1681,"filled":false,"stroke":"#d3d9e4","strokeWidth":4,"opacity":1}},
   {"data":{"name":"logo"},"mark":{"type":"point","shape":"M-0.62,0.32 L-0.32,-0.3 L-0.06,0.3 L0.18,-0.3 L0.34,0.14 Q0.48,0.42 0.72,0.2","size":1681,"filled":false,"stroke":"#d3d9e4","strokeWidth":4,"strokeJoin":"round","strokeCap":"round","opacity":1}},
   {"data":{"name":"price"},"mark":{"type":"area","interpolate":"linear","fill":{"gradient":"linear","x1":0,"y1":0,"x2":0,"y2":1,"stops":[{"offset":0,"color":"#cdeedb"},{"offset":0.1595,"color":"#cdeedb"},{"offset":0.1595,"color":"#fdf4f4"},{"offset":1,"color":"#f2cbce"}]}},
    "encoding":{"y2":{"datum":105440}}},
   {"data":{"name":"baseline"},"mark":{"type":"line","stroke":"#7b8394","strokeWidth":1.5,"strokeDash":[2,5.3]}},
   {"data":{"name":"price"},"mark":{"type":"line","interpolate":"linear","strokeWidth":2.8,"strokeJoin":"round","strokeCap":"round","stroke":{"gradient":"linear","x1":0,"y1":0,"x2":0,"y2":1,"stops":[{"offset":0,"color":"#58c387"},{"offset":0.1595,"color":"#58c387"},{"offset":0.1595,"color":"#dc4347"},{"offset":1,"color":"#dc4347"}]}}},
   {"data":{"name":"openBox"},"mark":{"type":"rect","fill":"#ffffff","opacity":0.85,"cornerRadius":6},"encoding":{"x2":{"field":"t2"},"y2":{"field":"p2"}}},
   {"data":{"name":"openText"},"mark":{"type":"text","align":"center","baseline":"middle","fontSize":20,"color":"#58667e"},"encoding":{"text":{"field":"label"}}},
   {"data":{"name":"lastBox"},"mark":{"type":"rect","fill":"#5cc489","cornerRadius":6},"encoding":{"x2":{"field":"t2"},"y2":{"field":"p2"}}},
   {"data":{"name":"lastText"},"mark":{"type":"text","align":"center","baseline":"middle","fontSize":20,"color":"#ffffff"},"encoding":{"text":{"field":"label"}}},
   {"data":{"name":"handle"},"mark":{"type":"rect","fill":"#b9c0cd","cornerRadius":9},"encoding":{"x2":{"field":"t2"},"y2":{"field":"p2"}}},
   {"data":{"name":"events"},"mark":{"type":"point","shape":"triangle-up","size":480,"filled":true,"color":"#5cc489","opacity":1}}
  ]}
],
"resolve":{"scale":{"y":"independent"}}
}
